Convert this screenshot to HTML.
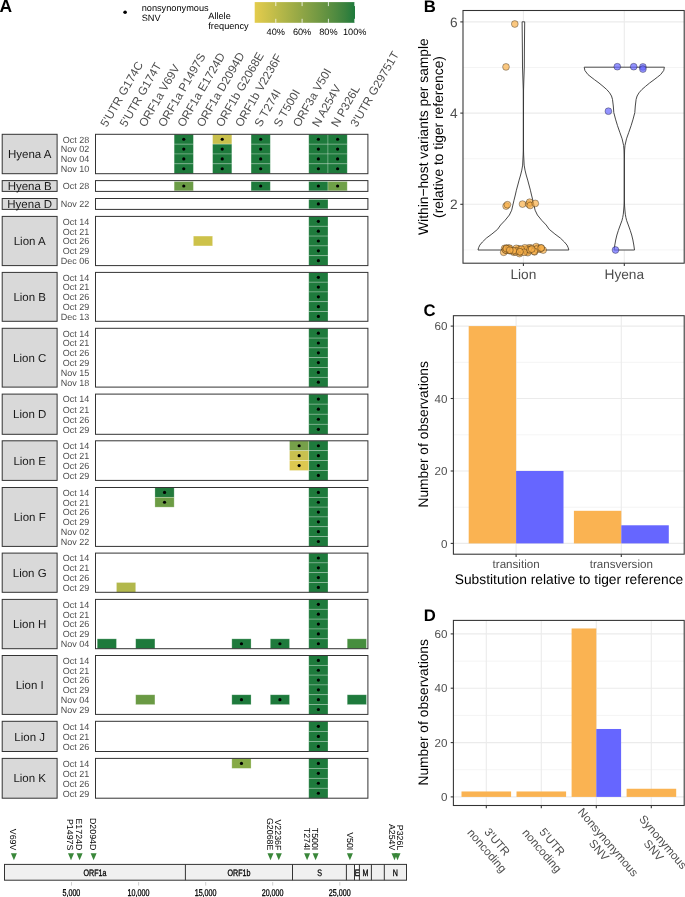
<!DOCTYPE html><html><head><meta charset="utf-8"><style>html,body{margin:0;padding:0;background:#fff;}svg{display:block;will-change:transform;}text{font-family:"Liberation Sans", sans-serif;text-rendering:geometricPrecision;}</style></head><body>
<svg width="685" height="897" viewBox="0 0 685 897">
<rect x="0" y="0" width="685" height="897" fill="#fff"/>
<text x="-0.4" y="11.7" font-size="17.5" font-weight="bold" fill="#000">A</text>
<circle cx="125.1" cy="12.3" r="1.8" fill="#000"/>
<text x="141.7" y="10.9" font-size="9.2" fill="#000">nonsynonymous</text>
<text x="141.7" y="21" font-size="9.2" fill="#000">SNV</text>
<text x="208.3" y="18.6" font-size="9.2" fill="#000">Allele</text>
<text x="208.3" y="28.5" font-size="9.2" fill="#000">frequency</text>
<defs><linearGradient id="cb" x1="0" x2="1" y1="0" y2="0"><stop offset="0.00" stop-color="#e4cc4c"/><stop offset="0.10" stop-color="#d2c44b"/><stop offset="0.20" stop-color="#c0bc49"/><stop offset="0.30" stop-color="#aeb448"/><stop offset="0.40" stop-color="#9cab46"/><stop offset="0.50" stop-color="#8aa345"/><stop offset="0.60" stop-color="#789b43"/><stop offset="0.70" stop-color="#659341"/><stop offset="0.80" stop-color="#518b40"/><stop offset="0.90" stop-color="#3b823e"/><stop offset="1.00" stop-color="#1e7a3c"/></linearGradient></defs>
<rect x="254.7" y="2.1" width="100.30000000000001" height="20.7" fill="url(#cb)"/>
<line x1="275.80" x2="275.80" y1="2.1" y2="6.1" stroke="#fff" stroke-width="0.8"/>
<line x1="275.80" x2="275.80" y1="18.8" y2="22.8" stroke="#fff" stroke-width="0.8"/>
<text x="275.80" y="35" font-size="9.2" fill="#000" text-anchor="middle">40%</text>
<line x1="302.10" x2="302.10" y1="2.1" y2="6.1" stroke="#fff" stroke-width="0.8"/>
<line x1="302.10" x2="302.10" y1="18.8" y2="22.8" stroke="#fff" stroke-width="0.8"/>
<text x="302.10" y="35" font-size="9.2" fill="#000" text-anchor="middle">60%</text>
<line x1="328.40" x2="328.40" y1="2.1" y2="6.1" stroke="#fff" stroke-width="0.8"/>
<line x1="328.40" x2="328.40" y1="18.8" y2="22.8" stroke="#fff" stroke-width="0.8"/>
<text x="328.40" y="35" font-size="9.2" fill="#000" text-anchor="middle">80%</text>
<line x1="354.70" x2="354.70" y1="2.1" y2="6.1" stroke="#fff" stroke-width="0.8"/>
<line x1="354.70" x2="354.70" y1="18.8" y2="22.8" stroke="#fff" stroke-width="0.8"/>
<text x="354.70" y="35" font-size="9.2" fill="#000" text-anchor="middle">100%</text>
<text transform="translate(106.85,127.8) rotate(-60)" font-size="11.7" fill="#4d4d4d">5'UTR G174C</text>
<text transform="translate(126.08,127.8) rotate(-60)" font-size="11.7" fill="#4d4d4d">5'UTR G174T</text>
<text transform="translate(145.31,127.8) rotate(-60)" font-size="11.7" fill="#4d4d4d">ORF1a V69V</text>
<text transform="translate(164.54,127.8) rotate(-60)" font-size="11.7" fill="#4d4d4d">ORF1a P1497S</text>
<text transform="translate(183.77,127.8) rotate(-60)" font-size="11.7" fill="#4d4d4d">ORF1a E1724D</text>
<text transform="translate(203.00,127.8) rotate(-60)" font-size="11.7" fill="#4d4d4d">ORF1a D2094D</text>
<text transform="translate(222.23,127.8) rotate(-60)" font-size="11.7" fill="#4d4d4d">ORF1b G2068E</text>
<text transform="translate(241.46,127.8) rotate(-60)" font-size="11.7" fill="#4d4d4d">ORF1b V2236F</text>
<text transform="translate(260.69,127.8) rotate(-60)" font-size="11.7" fill="#4d4d4d">S T274I</text>
<text transform="translate(279.92,127.8) rotate(-60)" font-size="11.7" fill="#4d4d4d">S T500I</text>
<text transform="translate(299.15,127.8) rotate(-60)" font-size="11.7" fill="#4d4d4d">ORF3a V50I</text>
<text transform="translate(318.38,127.8) rotate(-60)" font-size="11.7" fill="#4d4d4d">N A254V</text>
<text transform="translate(337.61,127.8) rotate(-60)" font-size="11.7" fill="#4d4d4d">N P326L</text>
<text transform="translate(356.84,127.8) rotate(-60)" font-size="11.7" fill="#4d4d4d">3'UTR G29751T</text>
<rect x="2.2" y="134.3" width="54.9" height="39.4" fill="#d9d9d9" stroke="#333333" stroke-width="1"/>
<text x="29.7" y="158.1" font-size="11.5" fill="#1a1a1a" text-anchor="middle">Hyena A</text>
<rect x="95.5" y="134.3" width="272.4" height="39.4" fill="#fff"/>
<rect x="174.15" y="134.30" width="19.23" height="9.85" fill="#1e7a3c" stroke="#fff" stroke-opacity="0.35" stroke-width="0.7"/>
<circle cx="183.77" cy="139.23" r="1.6" fill="#000"/>
<rect x="212.61" y="134.30" width="19.23" height="9.85" fill="#c9c04d" stroke="#fff" stroke-opacity="0.35" stroke-width="0.7"/>
<circle cx="222.23" cy="139.23" r="1.6" fill="#000"/>
<rect x="251.07" y="134.30" width="19.23" height="9.85" fill="#1e7a3c" stroke="#fff" stroke-opacity="0.35" stroke-width="0.7"/>
<circle cx="260.69" cy="139.23" r="1.6" fill="#000"/>
<rect x="308.76" y="134.30" width="19.23" height="9.85" fill="#1e7a3c" stroke="#fff" stroke-opacity="0.35" stroke-width="0.7"/>
<circle cx="318.38" cy="139.23" r="1.6" fill="#000"/>
<rect x="328.00" y="134.30" width="19.23" height="9.85" fill="#1e7a3c" stroke="#fff" stroke-opacity="0.35" stroke-width="0.7"/>
<circle cx="337.61" cy="139.23" r="1.6" fill="#000"/>
<rect x="174.15" y="144.15" width="19.23" height="9.85" fill="#1e7a3c" stroke="#fff" stroke-opacity="0.35" stroke-width="0.7"/>
<circle cx="183.77" cy="149.07" r="1.6" fill="#000"/>
<rect x="212.61" y="144.15" width="19.23" height="9.85" fill="#1e7a3c" stroke="#fff" stroke-opacity="0.35" stroke-width="0.7"/>
<circle cx="222.23" cy="149.07" r="1.6" fill="#000"/>
<rect x="251.07" y="144.15" width="19.23" height="9.85" fill="#1e7a3c" stroke="#fff" stroke-opacity="0.35" stroke-width="0.7"/>
<circle cx="260.69" cy="149.07" r="1.6" fill="#000"/>
<rect x="308.76" y="144.15" width="19.23" height="9.85" fill="#1e7a3c" stroke="#fff" stroke-opacity="0.35" stroke-width="0.7"/>
<circle cx="318.38" cy="149.07" r="1.6" fill="#000"/>
<rect x="328.00" y="144.15" width="19.23" height="9.85" fill="#1e7a3c" stroke="#fff" stroke-opacity="0.35" stroke-width="0.7"/>
<circle cx="337.61" cy="149.07" r="1.6" fill="#000"/>
<rect x="174.15" y="154.00" width="19.23" height="9.85" fill="#1e7a3c" stroke="#fff" stroke-opacity="0.35" stroke-width="0.7"/>
<circle cx="183.77" cy="158.93" r="1.6" fill="#000"/>
<rect x="212.61" y="154.00" width="19.23" height="9.85" fill="#1e7a3c" stroke="#fff" stroke-opacity="0.35" stroke-width="0.7"/>
<circle cx="222.23" cy="158.93" r="1.6" fill="#000"/>
<rect x="251.07" y="154.00" width="19.23" height="9.85" fill="#1e7a3c" stroke="#fff" stroke-opacity="0.35" stroke-width="0.7"/>
<circle cx="260.69" cy="158.93" r="1.6" fill="#000"/>
<rect x="308.76" y="154.00" width="19.23" height="9.85" fill="#1e7a3c" stroke="#fff" stroke-opacity="0.35" stroke-width="0.7"/>
<circle cx="318.38" cy="158.93" r="1.6" fill="#000"/>
<rect x="328.00" y="154.00" width="19.23" height="9.85" fill="#1e7a3c" stroke="#fff" stroke-opacity="0.35" stroke-width="0.7"/>
<circle cx="337.61" cy="158.93" r="1.6" fill="#000"/>
<rect x="174.15" y="163.85" width="19.23" height="9.85" fill="#1e7a3c" stroke="#fff" stroke-opacity="0.35" stroke-width="0.7"/>
<circle cx="183.77" cy="168.77" r="1.6" fill="#000"/>
<rect x="212.61" y="163.85" width="19.23" height="9.85" fill="#1e7a3c" stroke="#fff" stroke-opacity="0.35" stroke-width="0.7"/>
<circle cx="222.23" cy="168.77" r="1.6" fill="#000"/>
<rect x="251.07" y="163.85" width="19.23" height="9.85" fill="#1e7a3c" stroke="#fff" stroke-opacity="0.35" stroke-width="0.7"/>
<circle cx="260.69" cy="168.77" r="1.6" fill="#000"/>
<rect x="308.76" y="163.85" width="19.23" height="9.85" fill="#1e7a3c" stroke="#fff" stroke-opacity="0.35" stroke-width="0.7"/>
<circle cx="318.38" cy="168.77" r="1.6" fill="#000"/>
<rect x="328.00" y="163.85" width="19.23" height="9.85" fill="#1e7a3c" stroke="#fff" stroke-opacity="0.35" stroke-width="0.7"/>
<circle cx="337.61" cy="168.77" r="1.6" fill="#000"/>
<rect x="95.5" y="134.3" width="272.4" height="39.4" fill="none" stroke="#333333" stroke-width="1"/>
<text x="89.2" y="142.5" font-size="9" fill="#4d4d4d" text-anchor="end">Oct 28</text>
<text x="89.2" y="152.4" font-size="9" fill="#4d4d4d" text-anchor="end">Nov 02</text>
<text x="89.2" y="162.2" font-size="9" fill="#4d4d4d" text-anchor="end">Nov 04</text>
<text x="89.2" y="172.1" font-size="9" fill="#4d4d4d" text-anchor="end">Nov 10</text>
<rect x="2.2" y="180.6" width="54.9" height="10.8" fill="#d9d9d9" stroke="#333333" stroke-width="1"/>
<text x="29.7" y="190.1" font-size="11.5" fill="#1a1a1a" text-anchor="middle">Hyena B</text>
<rect x="95.5" y="180.6" width="272.4" height="10.8" fill="#fff"/>
<rect x="174.15" y="181.50" width="19.23" height="9.30" fill="#6b9c46" stroke="#fff" stroke-opacity="0.35" stroke-width="0.7"/>
<circle cx="183.77" cy="186.00" r="1.6" fill="#000"/>
<rect x="251.07" y="181.50" width="19.23" height="9.30" fill="#1e7a3c" stroke="#fff" stroke-opacity="0.35" stroke-width="0.7"/>
<circle cx="260.69" cy="186.00" r="1.6" fill="#000"/>
<rect x="308.76" y="181.50" width="19.23" height="9.30" fill="#1e7a3c" stroke="#fff" stroke-opacity="0.35" stroke-width="0.7"/>
<circle cx="318.38" cy="186.00" r="1.6" fill="#000"/>
<rect x="328.00" y="181.50" width="19.23" height="9.30" fill="#6fa048" stroke="#fff" stroke-opacity="0.35" stroke-width="0.7"/>
<circle cx="337.61" cy="186.00" r="1.6" fill="#000"/>
<rect x="95.5" y="180.6" width="272.4" height="10.8" fill="none" stroke="#333333" stroke-width="1"/>
<text x="89.2" y="189.3" font-size="9" fill="#4d4d4d" text-anchor="end">Oct 28</text>
<rect x="2.2" y="198.5" width="54.9" height="10.9" fill="#d9d9d9" stroke="#333333" stroke-width="1"/>
<text x="29.7" y="208.0" font-size="11.5" fill="#1a1a1a" text-anchor="middle">Hyena D</text>
<rect x="95.5" y="198.5" width="272.4" height="10.9" fill="#fff"/>
<rect x="308.76" y="199.40" width="19.23" height="9.40" fill="#1e7a3c" stroke="#fff" stroke-opacity="0.35" stroke-width="0.7"/>
<circle cx="318.38" cy="203.95" r="1.6" fill="#000"/>
<rect x="95.5" y="198.5" width="272.4" height="10.9" fill="none" stroke="#333333" stroke-width="1"/>
<text x="89.2" y="207.2" font-size="9" fill="#4d4d4d" text-anchor="end">Nov 22</text>
<rect x="2.2" y="216.4" width="54.9" height="49.2" fill="#d9d9d9" stroke="#333333" stroke-width="1"/>
<text x="29.7" y="245.1" font-size="11.5" fill="#1a1a1a" text-anchor="middle">Lion A</text>
<rect x="95.5" y="216.4" width="272.4" height="49.2" fill="#fff"/>
<rect x="308.76" y="216.40" width="19.23" height="9.84" fill="#1e7a3c" stroke="#fff" stroke-opacity="0.35" stroke-width="0.7"/>
<circle cx="318.38" cy="221.32" r="1.6" fill="#000"/>
<rect x="308.76" y="226.24" width="19.23" height="9.84" fill="#1e7a3c" stroke="#fff" stroke-opacity="0.35" stroke-width="0.7"/>
<circle cx="318.38" cy="231.16" r="1.6" fill="#000"/>
<rect x="308.76" y="236.08" width="19.23" height="9.84" fill="#1e7a3c" stroke="#fff" stroke-opacity="0.35" stroke-width="0.7"/>
<circle cx="318.38" cy="241.00" r="1.6" fill="#000"/>
<rect x="308.76" y="245.92" width="19.23" height="9.84" fill="#1e7a3c" stroke="#fff" stroke-opacity="0.35" stroke-width="0.7"/>
<circle cx="318.38" cy="250.84" r="1.6" fill="#000"/>
<rect x="308.76" y="255.76" width="19.23" height="9.84" fill="#1e7a3c" stroke="#fff" stroke-opacity="0.35" stroke-width="0.7"/>
<circle cx="318.38" cy="260.68" r="1.6" fill="#000"/>
<rect x="193.38" y="236.08" width="19.23" height="9.84" fill="#cdc24a" stroke="#fff" stroke-opacity="0.35" stroke-width="0.7"/>
<rect x="95.5" y="216.4" width="272.4" height="49.2" fill="none" stroke="#333333" stroke-width="1"/>
<text x="89.2" y="224.6" font-size="9" fill="#4d4d4d" text-anchor="end">Oct 14</text>
<text x="89.2" y="234.5" font-size="9" fill="#4d4d4d" text-anchor="end">Oct 21</text>
<text x="89.2" y="244.3" font-size="9" fill="#4d4d4d" text-anchor="end">Oct 26</text>
<text x="89.2" y="254.1" font-size="9" fill="#4d4d4d" text-anchor="end">Oct 29</text>
<text x="89.2" y="264.0" font-size="9" fill="#4d4d4d" text-anchor="end">Dec 06</text>
<rect x="2.2" y="272.4" width="54.9" height="48.9" fill="#d9d9d9" stroke="#333333" stroke-width="1"/>
<text x="29.7" y="301.0" font-size="11.5" fill="#1a1a1a" text-anchor="middle">Lion B</text>
<rect x="95.5" y="272.4" width="272.4" height="48.9" fill="#fff"/>
<rect x="308.76" y="272.40" width="19.23" height="9.78" fill="#1e7a3c" stroke="#fff" stroke-opacity="0.35" stroke-width="0.7"/>
<circle cx="318.38" cy="277.29" r="1.6" fill="#000"/>
<rect x="308.76" y="282.18" width="19.23" height="9.78" fill="#1e7a3c" stroke="#fff" stroke-opacity="0.35" stroke-width="0.7"/>
<circle cx="318.38" cy="287.07" r="1.6" fill="#000"/>
<rect x="308.76" y="291.96" width="19.23" height="9.78" fill="#1e7a3c" stroke="#fff" stroke-opacity="0.35" stroke-width="0.7"/>
<circle cx="318.38" cy="296.85" r="1.6" fill="#000"/>
<rect x="308.76" y="301.74" width="19.23" height="9.78" fill="#1e7a3c" stroke="#fff" stroke-opacity="0.35" stroke-width="0.7"/>
<circle cx="318.38" cy="306.63" r="1.6" fill="#000"/>
<rect x="308.76" y="311.52" width="19.23" height="9.78" fill="#1e7a3c" stroke="#fff" stroke-opacity="0.35" stroke-width="0.7"/>
<circle cx="318.38" cy="316.41" r="1.6" fill="#000"/>
<rect x="95.5" y="272.4" width="272.4" height="48.9" fill="none" stroke="#333333" stroke-width="1"/>
<text x="89.2" y="280.6" font-size="9" fill="#4d4d4d" text-anchor="end">Oct 14</text>
<text x="89.2" y="290.4" font-size="9" fill="#4d4d4d" text-anchor="end">Oct 21</text>
<text x="89.2" y="300.2" font-size="9" fill="#4d4d4d" text-anchor="end">Oct 26</text>
<text x="89.2" y="309.9" font-size="9" fill="#4d4d4d" text-anchor="end">Oct 29</text>
<text x="89.2" y="319.7" font-size="9" fill="#4d4d4d" text-anchor="end">Dec 13</text>
<rect x="2.2" y="328.3" width="54.9" height="58.8" fill="#d9d9d9" stroke="#333333" stroke-width="1"/>
<text x="29.7" y="361.8" font-size="11.5" fill="#1a1a1a" text-anchor="middle">Lion C</text>
<rect x="95.5" y="328.3" width="272.4" height="58.8" fill="#fff"/>
<rect x="308.76" y="328.30" width="19.23" height="9.80" fill="#1e7a3c" stroke="#fff" stroke-opacity="0.35" stroke-width="0.7"/>
<circle cx="318.38" cy="333.20" r="1.6" fill="#000"/>
<rect x="308.76" y="338.10" width="19.23" height="9.80" fill="#1e7a3c" stroke="#fff" stroke-opacity="0.35" stroke-width="0.7"/>
<circle cx="318.38" cy="343.00" r="1.6" fill="#000"/>
<rect x="308.76" y="347.90" width="19.23" height="9.80" fill="#1e7a3c" stroke="#fff" stroke-opacity="0.35" stroke-width="0.7"/>
<circle cx="318.38" cy="352.80" r="1.6" fill="#000"/>
<rect x="308.76" y="357.70" width="19.23" height="9.80" fill="#1e7a3c" stroke="#fff" stroke-opacity="0.35" stroke-width="0.7"/>
<circle cx="318.38" cy="362.60" r="1.6" fill="#000"/>
<rect x="308.76" y="367.50" width="19.23" height="9.80" fill="#1e7a3c" stroke="#fff" stroke-opacity="0.35" stroke-width="0.7"/>
<circle cx="318.38" cy="372.40" r="1.6" fill="#000"/>
<rect x="308.76" y="377.30" width="19.23" height="9.80" fill="#1e7a3c" stroke="#fff" stroke-opacity="0.35" stroke-width="0.7"/>
<circle cx="318.38" cy="382.20" r="1.6" fill="#000"/>
<rect x="95.5" y="328.3" width="272.4" height="58.8" fill="none" stroke="#333333" stroke-width="1"/>
<text x="89.2" y="336.5" font-size="9" fill="#4d4d4d" text-anchor="end">Oct 14</text>
<text x="89.2" y="346.3" font-size="9" fill="#4d4d4d" text-anchor="end">Oct 21</text>
<text x="89.2" y="356.1" font-size="9" fill="#4d4d4d" text-anchor="end">Oct 26</text>
<text x="89.2" y="365.9" font-size="9" fill="#4d4d4d" text-anchor="end">Oct 29</text>
<text x="89.2" y="375.7" font-size="9" fill="#4d4d4d" text-anchor="end">Nov 15</text>
<text x="89.2" y="385.5" font-size="9" fill="#4d4d4d" text-anchor="end">Nov 18</text>
<rect x="2.2" y="394.1" width="54.9" height="40.2" fill="#d9d9d9" stroke="#333333" stroke-width="1"/>
<text x="29.7" y="418.3" font-size="11.5" fill="#1a1a1a" text-anchor="middle">Lion D</text>
<rect x="95.5" y="394.1" width="272.4" height="40.2" fill="#fff"/>
<rect x="308.76" y="394.10" width="19.23" height="10.05" fill="#1e7a3c" stroke="#fff" stroke-opacity="0.35" stroke-width="0.7"/>
<circle cx="318.38" cy="399.12" r="1.6" fill="#000"/>
<rect x="308.76" y="404.15" width="19.23" height="10.05" fill="#1e7a3c" stroke="#fff" stroke-opacity="0.35" stroke-width="0.7"/>
<circle cx="318.38" cy="409.18" r="1.6" fill="#000"/>
<rect x="308.76" y="414.20" width="19.23" height="10.05" fill="#1e7a3c" stroke="#fff" stroke-opacity="0.35" stroke-width="0.7"/>
<circle cx="318.38" cy="419.23" r="1.6" fill="#000"/>
<rect x="308.76" y="424.25" width="19.23" height="10.05" fill="#1e7a3c" stroke="#fff" stroke-opacity="0.35" stroke-width="0.7"/>
<circle cx="318.38" cy="429.28" r="1.6" fill="#000"/>
<rect x="95.5" y="394.1" width="272.4" height="40.2" fill="none" stroke="#333333" stroke-width="1"/>
<text x="89.2" y="402.4" font-size="9" fill="#4d4d4d" text-anchor="end">Oct 14</text>
<text x="89.2" y="412.5" font-size="9" fill="#4d4d4d" text-anchor="end">Oct 21</text>
<text x="89.2" y="422.5" font-size="9" fill="#4d4d4d" text-anchor="end">Oct 26</text>
<text x="89.2" y="432.6" font-size="9" fill="#4d4d4d" text-anchor="end">Oct 29</text>
<rect x="2.2" y="440.8" width="54.9" height="39.6" fill="#d9d9d9" stroke="#333333" stroke-width="1"/>
<text x="29.7" y="464.7" font-size="11.5" fill="#1a1a1a" text-anchor="middle">Lion E</text>
<rect x="95.5" y="440.8" width="272.4" height="39.6" fill="#fff"/>
<rect x="308.76" y="440.80" width="19.23" height="9.90" fill="#1e7a3c" stroke="#fff" stroke-opacity="0.35" stroke-width="0.7"/>
<circle cx="318.38" cy="445.75" r="1.6" fill="#000"/>
<rect x="308.76" y="450.70" width="19.23" height="9.90" fill="#1e7a3c" stroke="#fff" stroke-opacity="0.35" stroke-width="0.7"/>
<circle cx="318.38" cy="455.65" r="1.6" fill="#000"/>
<rect x="308.76" y="460.60" width="19.23" height="9.90" fill="#1e7a3c" stroke="#fff" stroke-opacity="0.35" stroke-width="0.7"/>
<circle cx="318.38" cy="465.55" r="1.6" fill="#000"/>
<rect x="308.76" y="470.50" width="19.23" height="9.90" fill="#1e7a3c" stroke="#fff" stroke-opacity="0.35" stroke-width="0.7"/>
<circle cx="318.38" cy="475.45" r="1.6" fill="#000"/>
<rect x="289.53" y="440.80" width="19.23" height="9.90" fill="#76a04a" stroke="#fff" stroke-opacity="0.35" stroke-width="0.7"/>
<circle cx="299.15" cy="445.75" r="1.6" fill="#000"/>
<rect x="289.53" y="450.70" width="19.23" height="9.90" fill="#c8c050" stroke="#fff" stroke-opacity="0.35" stroke-width="0.7"/>
<circle cx="299.15" cy="455.65" r="1.6" fill="#000"/>
<rect x="289.53" y="460.60" width="19.23" height="9.90" fill="#dcc850" stroke="#fff" stroke-opacity="0.35" stroke-width="0.7"/>
<circle cx="299.15" cy="465.55" r="1.6" fill="#000"/>
<rect x="95.5" y="440.8" width="272.4" height="39.6" fill="none" stroke="#333333" stroke-width="1"/>
<text x="89.2" y="449.1" font-size="9" fill="#4d4d4d" text-anchor="end">Oct 14</text>
<text x="89.2" y="458.9" font-size="9" fill="#4d4d4d" text-anchor="end">Oct 21</text>
<text x="89.2" y="468.9" font-size="9" fill="#4d4d4d" text-anchor="end">Oct 26</text>
<text x="89.2" y="478.8" font-size="9" fill="#4d4d4d" text-anchor="end">Oct 29</text>
<rect x="2.2" y="487.5" width="54.9" height="58.9" fill="#d9d9d9" stroke="#333333" stroke-width="1"/>
<text x="29.7" y="521.1" font-size="11.5" fill="#1a1a1a" text-anchor="middle">Lion F</text>
<rect x="95.5" y="487.5" width="272.4" height="58.9" fill="#fff"/>
<rect x="308.76" y="487.50" width="19.23" height="9.82" fill="#1e7a3c" stroke="#fff" stroke-opacity="0.35" stroke-width="0.7"/>
<circle cx="318.38" cy="492.41" r="1.6" fill="#000"/>
<rect x="308.76" y="497.32" width="19.23" height="9.82" fill="#1e7a3c" stroke="#fff" stroke-opacity="0.35" stroke-width="0.7"/>
<circle cx="318.38" cy="502.23" r="1.6" fill="#000"/>
<rect x="308.76" y="507.13" width="19.23" height="9.82" fill="#1e7a3c" stroke="#fff" stroke-opacity="0.35" stroke-width="0.7"/>
<circle cx="318.38" cy="512.04" r="1.6" fill="#000"/>
<rect x="308.76" y="516.95" width="19.23" height="9.82" fill="#1e7a3c" stroke="#fff" stroke-opacity="0.35" stroke-width="0.7"/>
<circle cx="318.38" cy="521.86" r="1.6" fill="#000"/>
<rect x="308.76" y="526.77" width="19.23" height="9.82" fill="#1e7a3c" stroke="#fff" stroke-opacity="0.35" stroke-width="0.7"/>
<circle cx="318.38" cy="531.67" r="1.6" fill="#000"/>
<rect x="308.76" y="536.58" width="19.23" height="9.82" fill="#1e7a3c" stroke="#fff" stroke-opacity="0.35" stroke-width="0.7"/>
<circle cx="318.38" cy="541.49" r="1.6" fill="#000"/>
<rect x="154.92" y="487.50" width="19.23" height="9.82" fill="#237a3c" stroke="#fff" stroke-opacity="0.35" stroke-width="0.7"/>
<circle cx="164.54" cy="492.41" r="1.6" fill="#000"/>
<rect x="154.92" y="497.32" width="19.23" height="9.82" fill="#6c9c44" stroke="#fff" stroke-opacity="0.35" stroke-width="0.7"/>
<circle cx="164.54" cy="502.23" r="1.6" fill="#000"/>
<rect x="95.5" y="487.5" width="272.4" height="58.9" fill="none" stroke="#333333" stroke-width="1"/>
<text x="89.2" y="495.7" font-size="9" fill="#4d4d4d" text-anchor="end">Oct 14</text>
<text x="89.2" y="505.5" font-size="9" fill="#4d4d4d" text-anchor="end">Oct 21</text>
<text x="89.2" y="515.3" font-size="9" fill="#4d4d4d" text-anchor="end">Oct 26</text>
<text x="89.2" y="525.2" font-size="9" fill="#4d4d4d" text-anchor="end">Oct 29</text>
<text x="89.2" y="535.0" font-size="9" fill="#4d4d4d" text-anchor="end">Nov 02</text>
<text x="89.2" y="544.8" font-size="9" fill="#4d4d4d" text-anchor="end">Nov 22</text>
<rect x="2.2" y="553.1" width="54.9" height="39.2" fill="#d9d9d9" stroke="#333333" stroke-width="1"/>
<text x="29.7" y="576.8" font-size="11.5" fill="#1a1a1a" text-anchor="middle">Lion G</text>
<rect x="95.5" y="553.1" width="272.4" height="39.2" fill="#fff"/>
<rect x="308.76" y="553.10" width="19.23" height="9.80" fill="#1e7a3c" stroke="#fff" stroke-opacity="0.35" stroke-width="0.7"/>
<circle cx="318.38" cy="558.00" r="1.6" fill="#000"/>
<rect x="308.76" y="562.90" width="19.23" height="9.80" fill="#1e7a3c" stroke="#fff" stroke-opacity="0.35" stroke-width="0.7"/>
<circle cx="318.38" cy="567.80" r="1.6" fill="#000"/>
<rect x="308.76" y="572.70" width="19.23" height="9.80" fill="#1e7a3c" stroke="#fff" stroke-opacity="0.35" stroke-width="0.7"/>
<circle cx="318.38" cy="577.60" r="1.6" fill="#000"/>
<rect x="308.76" y="582.50" width="19.23" height="9.80" fill="#1e7a3c" stroke="#fff" stroke-opacity="0.35" stroke-width="0.7"/>
<circle cx="318.38" cy="587.40" r="1.6" fill="#000"/>
<rect x="116.47" y="582.50" width="19.23" height="9.80" fill="#b2b84c" stroke="#fff" stroke-opacity="0.35" stroke-width="0.7"/>
<rect x="95.5" y="553.1" width="272.4" height="39.2" fill="none" stroke="#333333" stroke-width="1"/>
<text x="89.2" y="561.3" font-size="9" fill="#4d4d4d" text-anchor="end">Oct 14</text>
<text x="89.2" y="571.1" font-size="9" fill="#4d4d4d" text-anchor="end">Oct 21</text>
<text x="89.2" y="580.9" font-size="9" fill="#4d4d4d" text-anchor="end">Oct 26</text>
<text x="89.2" y="590.7" font-size="9" fill="#4d4d4d" text-anchor="end">Oct 29</text>
<rect x="2.2" y="599.4" width="54.9" height="49.3" fill="#d9d9d9" stroke="#333333" stroke-width="1"/>
<text x="29.7" y="628.1" font-size="11.5" fill="#1a1a1a" text-anchor="middle">Lion H</text>
<rect x="95.5" y="599.4" width="272.4" height="49.3" fill="#fff"/>
<rect x="308.76" y="599.40" width="19.23" height="9.86" fill="#1e7a3c" stroke="#fff" stroke-opacity="0.35" stroke-width="0.7"/>
<circle cx="318.38" cy="604.33" r="1.6" fill="#000"/>
<rect x="308.76" y="609.26" width="19.23" height="9.86" fill="#1e7a3c" stroke="#fff" stroke-opacity="0.35" stroke-width="0.7"/>
<circle cx="318.38" cy="614.19" r="1.6" fill="#000"/>
<rect x="308.76" y="619.12" width="19.23" height="9.86" fill="#1e7a3c" stroke="#fff" stroke-opacity="0.35" stroke-width="0.7"/>
<circle cx="318.38" cy="624.05" r="1.6" fill="#000"/>
<rect x="308.76" y="628.98" width="19.23" height="9.86" fill="#1e7a3c" stroke="#fff" stroke-opacity="0.35" stroke-width="0.7"/>
<circle cx="318.38" cy="633.91" r="1.6" fill="#000"/>
<rect x="308.76" y="638.84" width="19.23" height="9.86" fill="#1e7a3c" stroke="#fff" stroke-opacity="0.35" stroke-width="0.7"/>
<circle cx="318.38" cy="643.77" r="1.6" fill="#000"/>
<rect x="97.23" y="638.84" width="19.23" height="9.86" fill="#1e7a3c" stroke="#fff" stroke-opacity="0.35" stroke-width="0.7"/>
<rect x="135.69" y="638.84" width="19.23" height="9.86" fill="#1e7a3c" stroke="#fff" stroke-opacity="0.35" stroke-width="0.7"/>
<rect x="231.84" y="638.84" width="19.23" height="9.86" fill="#1e7a3c" stroke="#fff" stroke-opacity="0.35" stroke-width="0.7"/>
<circle cx="241.46" cy="643.77" r="1.6" fill="#000"/>
<rect x="270.30" y="638.84" width="19.23" height="9.86" fill="#1e7a3c" stroke="#fff" stroke-opacity="0.35" stroke-width="0.7"/>
<circle cx="279.92" cy="643.77" r="1.6" fill="#000"/>
<rect x="347.23" y="638.84" width="19.23" height="9.86" fill="#468e3e" stroke="#fff" stroke-opacity="0.35" stroke-width="0.7"/>
<rect x="95.5" y="599.4" width="272.4" height="49.3" fill="none" stroke="#333333" stroke-width="1"/>
<text x="89.2" y="607.6" font-size="9" fill="#4d4d4d" text-anchor="end">Oct 14</text>
<text x="89.2" y="617.5" font-size="9" fill="#4d4d4d" text-anchor="end">Oct 21</text>
<text x="89.2" y="627.3" font-size="9" fill="#4d4d4d" text-anchor="end">Oct 26</text>
<text x="89.2" y="637.2" font-size="9" fill="#4d4d4d" text-anchor="end">Oct 29</text>
<text x="89.2" y="647.1" font-size="9" fill="#4d4d4d" text-anchor="end">Nov 04</text>
<rect x="2.2" y="655.5" width="54.9" height="58.9" fill="#d9d9d9" stroke="#333333" stroke-width="1"/>
<text x="29.7" y="689.1" font-size="11.5" fill="#1a1a1a" text-anchor="middle">Lion I</text>
<rect x="95.5" y="655.5" width="272.4" height="58.9" fill="#fff"/>
<rect x="308.76" y="655.50" width="19.23" height="9.82" fill="#1e7a3c" stroke="#fff" stroke-opacity="0.35" stroke-width="0.7"/>
<circle cx="318.38" cy="660.41" r="1.6" fill="#000"/>
<rect x="308.76" y="665.32" width="19.23" height="9.82" fill="#1e7a3c" stroke="#fff" stroke-opacity="0.35" stroke-width="0.7"/>
<circle cx="318.38" cy="670.23" r="1.6" fill="#000"/>
<rect x="308.76" y="675.13" width="19.23" height="9.82" fill="#1e7a3c" stroke="#fff" stroke-opacity="0.35" stroke-width="0.7"/>
<circle cx="318.38" cy="680.04" r="1.6" fill="#000"/>
<rect x="308.76" y="684.95" width="19.23" height="9.82" fill="#1e7a3c" stroke="#fff" stroke-opacity="0.35" stroke-width="0.7"/>
<circle cx="318.38" cy="689.86" r="1.6" fill="#000"/>
<rect x="308.76" y="694.77" width="19.23" height="9.82" fill="#1e7a3c" stroke="#fff" stroke-opacity="0.35" stroke-width="0.7"/>
<circle cx="318.38" cy="699.67" r="1.6" fill="#000"/>
<rect x="308.76" y="704.58" width="19.23" height="9.82" fill="#1e7a3c" stroke="#fff" stroke-opacity="0.35" stroke-width="0.7"/>
<circle cx="318.38" cy="709.49" r="1.6" fill="#000"/>
<rect x="135.69" y="694.77" width="19.23" height="9.82" fill="#6a9a44" stroke="#fff" stroke-opacity="0.35" stroke-width="0.7"/>
<rect x="231.84" y="694.77" width="19.23" height="9.82" fill="#1e7a3c" stroke="#fff" stroke-opacity="0.35" stroke-width="0.7"/>
<circle cx="241.46" cy="699.67" r="1.6" fill="#000"/>
<rect x="270.30" y="694.77" width="19.23" height="9.82" fill="#1e7a3c" stroke="#fff" stroke-opacity="0.35" stroke-width="0.7"/>
<circle cx="279.92" cy="699.67" r="1.6" fill="#000"/>
<rect x="347.23" y="694.77" width="19.23" height="9.82" fill="#1e7a3c" stroke="#fff" stroke-opacity="0.35" stroke-width="0.7"/>
<rect x="95.5" y="655.5" width="272.4" height="58.9" fill="none" stroke="#333333" stroke-width="1"/>
<text x="89.2" y="663.7" font-size="9" fill="#4d4d4d" text-anchor="end">Oct 14</text>
<text x="89.2" y="673.5" font-size="9" fill="#4d4d4d" text-anchor="end">Oct 21</text>
<text x="89.2" y="683.3" font-size="9" fill="#4d4d4d" text-anchor="end">Oct 26</text>
<text x="89.2" y="693.2" font-size="9" fill="#4d4d4d" text-anchor="end">Oct 29</text>
<text x="89.2" y="703.0" font-size="9" fill="#4d4d4d" text-anchor="end">Nov 04</text>
<text x="89.2" y="712.8" font-size="9" fill="#4d4d4d" text-anchor="end">Nov 29</text>
<rect x="2.2" y="721.3" width="54.9" height="30.2" fill="#d9d9d9" stroke="#333333" stroke-width="1"/>
<text x="29.7" y="740.5" font-size="11.5" fill="#1a1a1a" text-anchor="middle">Lion J</text>
<rect x="95.5" y="721.3" width="272.4" height="30.2" fill="#fff"/>
<rect x="308.76" y="721.30" width="19.23" height="10.07" fill="#1e7a3c" stroke="#fff" stroke-opacity="0.35" stroke-width="0.7"/>
<circle cx="318.38" cy="726.33" r="1.6" fill="#000"/>
<rect x="308.76" y="731.37" width="19.23" height="10.07" fill="#1e7a3c" stroke="#fff" stroke-opacity="0.35" stroke-width="0.7"/>
<circle cx="318.38" cy="736.40" r="1.6" fill="#000"/>
<rect x="308.76" y="741.43" width="19.23" height="10.07" fill="#1e7a3c" stroke="#fff" stroke-opacity="0.35" stroke-width="0.7"/>
<circle cx="318.38" cy="746.47" r="1.6" fill="#000"/>
<rect x="95.5" y="721.3" width="272.4" height="30.2" fill="none" stroke="#333333" stroke-width="1"/>
<text x="89.2" y="729.6" font-size="9" fill="#4d4d4d" text-anchor="end">Oct 14</text>
<text x="89.2" y="739.7" font-size="9" fill="#4d4d4d" text-anchor="end">Oct 21</text>
<text x="89.2" y="749.8" font-size="9" fill="#4d4d4d" text-anchor="end">Oct 26</text>
<rect x="2.2" y="758.4" width="54.9" height="39.8" fill="#d9d9d9" stroke="#333333" stroke-width="1"/>
<text x="29.7" y="782.4" font-size="11.5" fill="#1a1a1a" text-anchor="middle">Lion K</text>
<rect x="95.5" y="758.4" width="272.4" height="39.8" fill="#fff"/>
<rect x="308.76" y="758.40" width="19.23" height="9.95" fill="#1e7a3c" stroke="#fff" stroke-opacity="0.35" stroke-width="0.7"/>
<circle cx="318.38" cy="763.38" r="1.6" fill="#000"/>
<rect x="308.76" y="768.35" width="19.23" height="9.95" fill="#1e7a3c" stroke="#fff" stroke-opacity="0.35" stroke-width="0.7"/>
<circle cx="318.38" cy="773.33" r="1.6" fill="#000"/>
<rect x="308.76" y="778.30" width="19.23" height="9.95" fill="#1e7a3c" stroke="#fff" stroke-opacity="0.35" stroke-width="0.7"/>
<circle cx="318.38" cy="783.27" r="1.6" fill="#000"/>
<rect x="308.76" y="788.25" width="19.23" height="9.95" fill="#1e7a3c" stroke="#fff" stroke-opacity="0.35" stroke-width="0.7"/>
<circle cx="318.38" cy="793.23" r="1.6" fill="#000"/>
<rect x="231.84" y="758.40" width="19.23" height="9.95" fill="#86aa46" stroke="#fff" stroke-opacity="0.35" stroke-width="0.7"/>
<circle cx="241.46" cy="763.38" r="1.6" fill="#000"/>
<rect x="95.5" y="758.4" width="272.4" height="39.8" fill="none" stroke="#333333" stroke-width="1"/>
<text x="89.2" y="766.7" font-size="9" fill="#4d4d4d" text-anchor="end">Oct 14</text>
<text x="89.2" y="776.6" font-size="9" fill="#4d4d4d" text-anchor="end">Oct 21</text>
<text x="89.2" y="786.6" font-size="9" fill="#4d4d4d" text-anchor="end">Oct 26</text>
<text x="89.2" y="796.5" font-size="9" fill="#4d4d4d" text-anchor="end">Oct 29</text>
<rect x="4.5" y="864.4" width="402.0" height="15.8" fill="#f0f0f0"/>
<rect x="354.5" y="864.4" width="4.9" height="15.8" fill="#fff"/>
<rect x="4.5" y="864.4" width="402.0" height="15.8" fill="none" stroke="#333333" stroke-width="1"/>
<line x1="185.4" x2="185.4" y1="864.4" y2="880.2" stroke="#333333" stroke-width="1"/>
<line x1="292.5" x2="292.5" y1="864.4" y2="880.2" stroke="#333333" stroke-width="1"/>
<line x1="346.4" x2="346.4" y1="864.4" y2="880.2" stroke="#333333" stroke-width="1"/>
<line x1="354.5" x2="354.5" y1="864.4" y2="880.2" stroke="#333333" stroke-width="1"/>
<line x1="359.4" x2="359.4" y1="864.4" y2="880.2" stroke="#333333" stroke-width="1"/>
<line x1="371.4" x2="371.4" y1="864.4" y2="880.2" stroke="#333333" stroke-width="1"/>
<line x1="384.3" x2="384.3" y1="864.4" y2="880.2" stroke="#333333" stroke-width="1"/>
<text transform="translate(95,875.8) scale(0.76,1)" font-size="9.4" fill="#000" stroke="#000" stroke-width="0.3" text-anchor="middle">ORF1a</text>
<text transform="translate(239,875.8) scale(0.76,1)" font-size="9.4" fill="#000" stroke="#000" stroke-width="0.3" text-anchor="middle">ORF1b</text>
<text transform="translate(319.5,875.8) scale(0.76,1)" font-size="9.4" fill="#000" stroke="#000" stroke-width="0.3" text-anchor="middle">S</text>
<text transform="translate(357,875.8) scale(0.76,1)" font-size="9.4" fill="#000" stroke="#000" stroke-width="0.3" text-anchor="middle">E</text>
<text transform="translate(365.4,875.8) scale(0.76,1)" font-size="9.4" fill="#000" stroke="#000" stroke-width="0.3" text-anchor="middle">M</text>
<text transform="translate(395.4,875.8) scale(0.76,1)" font-size="9.4" fill="#000" stroke="#000" stroke-width="0.3" text-anchor="middle">N</text>
<line x1="71.5" x2="71.5" y1="882" y2="885.6" stroke="#bbb" stroke-width="0.7"/>
<text transform="translate(71.4,895.6) scale(0.73,1)" font-size="9.8" fill="#000" stroke="#000" stroke-width="0.3" text-anchor="middle">5,000</text>
<line x1="138.6" x2="138.6" y1="882" y2="885.6" stroke="#bbb" stroke-width="0.7"/>
<text transform="translate(138.5,895.6) scale(0.73,1)" font-size="9.8" fill="#000" stroke="#000" stroke-width="0.3" text-anchor="middle">10,000</text>
<line x1="205.7" x2="205.7" y1="882" y2="885.6" stroke="#bbb" stroke-width="0.7"/>
<text transform="translate(205.6,895.6) scale(0.73,1)" font-size="9.8" fill="#000" stroke="#000" stroke-width="0.3" text-anchor="middle">15,000</text>
<line x1="272.7" x2="272.7" y1="882" y2="885.6" stroke="#bbb" stroke-width="0.7"/>
<text transform="translate(272.6,895.6) scale(0.73,1)" font-size="9.8" fill="#000" stroke="#000" stroke-width="0.3" text-anchor="middle">20,000</text>
<line x1="339.8" x2="339.8" y1="882" y2="885.6" stroke="#bbb" stroke-width="0.7"/>
<text transform="translate(339.7,895.6) scale(0.73,1)" font-size="9.8" fill="#000" stroke="#000" stroke-width="0.3" text-anchor="middle">25,000</text>
<polygon points="10.9,853.3 16.9,853.3 13.9,860.3" fill="#3a873a"/>
<text transform="translate(10.4,850.3) rotate(90)" font-size="8.8" fill="#000" text-anchor="end">V69V</text>
<polygon points="68.0,853.3 74.0,853.3 71.0,860.3" fill="#3a873a"/>
<text transform="translate(67.3,850.3) rotate(90)" font-size="8.8" fill="#000" text-anchor="end">P1497S</text>
<polygon points="76.6,853.3 82.6,853.3 79.6,860.3" fill="#3a873a"/>
<text transform="translate(76.1,850.3) rotate(90)" font-size="8.8" fill="#000" text-anchor="end">E1724D</text>
<polygon points="90.6,853.3 96.6,853.3 93.6,860.3" fill="#3a873a"/>
<text transform="translate(89.8,850.3) rotate(90)" font-size="8.8" fill="#000" text-anchor="end">D2094D</text>
<polygon points="267.5,853.3 273.5,853.3 270.5,860.3" fill="#3a873a"/>
<text transform="translate(266.9,850.3) rotate(90)" font-size="8.8" fill="#000" text-anchor="end">G2068E</text>
<polygon points="275.8,853.3 281.8,853.3 278.8,860.3" fill="#3a873a"/>
<text transform="translate(275.3,850.3) rotate(90)" font-size="8.8" fill="#000" text-anchor="end">V2236F</text>
<polygon points="304.1,853.3 310.1,853.3 307.1,860.3" fill="#3a873a"/>
<text transform="translate(303.8,850.3) rotate(90)" font-size="8.8" fill="#000" text-anchor="end">T274I</text>
<polygon points="312.6,853.3 318.6,853.3 315.6,860.3" fill="#3a873a"/>
<text transform="translate(311.7,850.3) rotate(90)" font-size="8.8" fill="#000" text-anchor="end">T500I</text>
<polygon points="346.9,853.3 352.9,853.3 349.9,860.3" fill="#3a873a"/>
<text transform="translate(346.7,850.3) rotate(90)" font-size="8.8" fill="#000" text-anchor="end">V50I</text>
<polygon points="391.5,853.3 397.5,853.3 394.5,860.3" fill="#3a873a"/>
<text transform="translate(388.7,850.3) rotate(90)" font-size="8.8" fill="#000" text-anchor="end">A254V</text>
<polygon points="394.5,853.3 400.5,853.3 397.5,860.3" fill="#3a873a"/>
<text transform="translate(396.9,850.3) rotate(90)" font-size="8.8" fill="#000" text-anchor="end">P326L</text>
<text x="423.8" y="11.7" font-size="16.7" font-weight="bold" fill="#000">B</text>
<rect x="463.0" y="10.5" width="221.20000000000005" height="252.7" fill="#fff"/>
<line x1="463.0" x2="684.2" y1="249.9" y2="249.9" stroke="#ebebeb" stroke-width="0.55"/>
<line x1="463.0" x2="684.2" y1="158.7" y2="158.7" stroke="#ebebeb" stroke-width="0.55"/>
<line x1="463.0" x2="684.2" y1="67.5" y2="67.5" stroke="#ebebeb" stroke-width="0.55"/>
<line x1="463.0" x2="684.2" y1="204.3" y2="204.3" stroke="#ebebeb" stroke-width="1.07"/>
<line x1="463.0" x2="684.2" y1="113.1" y2="113.1" stroke="#ebebeb" stroke-width="1.07"/>
<line x1="463.0" x2="684.2" y1="21.9" y2="21.9" stroke="#ebebeb" stroke-width="1.07"/>
<line x1="523.4" x2="523.4" y1="10.5" y2="263.2" stroke="#ebebeb" stroke-width="1.07"/>
<line x1="624.3" x2="624.3" y1="10.5" y2="263.2" stroke="#ebebeb" stroke-width="1.07"/>
<polygon points="524.70,21.80 524.60,30.00 524.40,50.00 524.30,67.00 523.85,80.00 523.55,90.00 523.48,120.00 523.52,150.00 523.65,155.00 523.90,160.00 524.15,165.10 525.00,170.10 526.20,175.00 527.70,180.10 529.00,185.00 530.40,190.20 531.50,195.00 532.80,200.20 533.90,205.00 535.10,210.20 537.40,215.00 541.70,220.30 546.20,225.00 549.20,229.30 554.90,234.00 560.40,238.10 564.40,242.00 567.00,245.10 568.20,247.70 568.80,250.00 478.00,250.00 478.60,247.70 479.80,245.10 482.40,242.00 486.40,238.10 491.90,234.00 497.60,229.30 500.60,225.00 505.10,220.30 509.40,215.00 511.70,210.20 512.90,205.00 514.00,200.20 515.30,195.00 516.40,190.20 517.80,185.00 519.10,180.10 520.60,175.00 521.80,170.10 522.65,165.10 522.90,160.00 523.15,155.00 523.28,150.00 523.32,120.00 523.25,90.00 522.95,80.00 522.50,67.00 522.40,50.00 522.20,30.00 522.10,21.80" fill="#fff" stroke="#333333" stroke-width="0.9" stroke-linejoin="round"/>
<polygon points="664.40,67.20 663.70,70.50 660.70,74.50 657.60,77.00 654.10,79.70 649.60,83.00 645.60,86.30 641.90,89.50 639.00,92.80 637.10,96.00 636.10,99.40 635.30,106.00 634.80,112.60 633.10,119.10 631.10,125.70 628.80,132.30 626.50,138.80 625.00,145.40 624.60,150.00 624.38,160.00 624.38,200.00 624.60,206.00 624.90,210.00 625.30,214.20 625.90,217.50 626.70,220.70 628.30,225.00 630.20,230.30 631.70,235.00 632.90,240.00 633.80,245.00 634.50,250.00 614.10,250.00 614.80,245.00 615.70,240.00 616.90,235.00 618.40,230.30 620.30,225.00 621.90,220.70 622.70,217.50 623.30,214.20 623.70,210.00 624.00,206.00 624.22,200.00 624.22,160.00 624.00,150.00 623.60,145.40 622.10,138.80 619.80,132.30 617.50,125.70 615.50,119.10 613.80,112.60 613.30,106.00 612.50,99.40 611.50,96.00 609.60,92.80 606.70,89.50 603.00,86.30 599.00,83.00 594.50,79.70 591.00,77.00 587.90,74.50 584.90,70.50 584.20,67.20" fill="#fff" stroke="#333333" stroke-width="0.9" stroke-linejoin="round"/>
<circle cx="514.8" cy="24.0" r="3.4" fill="#f9b14a" fill-opacity="0.7" stroke="#000" stroke-opacity="0.55" stroke-width="0.6"/>
<circle cx="506.0" cy="66.9" r="3.4" fill="#f9b14a" fill-opacity="0.7" stroke="#000" stroke-opacity="0.55" stroke-width="0.6"/>
<circle cx="506.1" cy="206.1" r="3.4" fill="#f9b14a" fill-opacity="0.7" stroke="#000" stroke-opacity="0.55" stroke-width="0.6"/>
<circle cx="507.4" cy="204.7" r="3.4" fill="#f9b14a" fill-opacity="0.7" stroke="#000" stroke-opacity="0.55" stroke-width="0.6"/>
<circle cx="522.5" cy="204.1" r="3.4" fill="#f9b14a" fill-opacity="0.7" stroke="#000" stroke-opacity="0.55" stroke-width="0.6"/>
<circle cx="528.6" cy="204.1" r="3.4" fill="#f9b14a" fill-opacity="0.7" stroke="#000" stroke-opacity="0.55" stroke-width="0.6"/>
<circle cx="529.6" cy="202.2" r="3.4" fill="#f9b14a" fill-opacity="0.7" stroke="#000" stroke-opacity="0.55" stroke-width="0.6"/>
<circle cx="530.2" cy="205.5" r="3.4" fill="#f9b14a" fill-opacity="0.7" stroke="#000" stroke-opacity="0.55" stroke-width="0.6"/>
<circle cx="535.3" cy="203.4" r="3.4" fill="#f9b14a" fill-opacity="0.7" stroke="#000" stroke-opacity="0.55" stroke-width="0.6"/>
<circle cx="504.6" cy="248.4" r="3.4" fill="#f9b14a" fill-opacity="0.7" stroke="#000" stroke-opacity="0.55" stroke-width="0.6"/>
<circle cx="503.7" cy="252.3" r="3.4" fill="#f9b14a" fill-opacity="0.7" stroke="#000" stroke-opacity="0.55" stroke-width="0.6"/>
<circle cx="509.2" cy="250.6" r="3.4" fill="#f9b14a" fill-opacity="0.7" stroke="#000" stroke-opacity="0.55" stroke-width="0.6"/>
<circle cx="509.0" cy="248.4" r="3.4" fill="#f9b14a" fill-opacity="0.7" stroke="#000" stroke-opacity="0.55" stroke-width="0.6"/>
<circle cx="513.8" cy="252.3" r="3.4" fill="#f9b14a" fill-opacity="0.7" stroke="#000" stroke-opacity="0.55" stroke-width="0.6"/>
<circle cx="518.6" cy="248.8" r="3.4" fill="#f9b14a" fill-opacity="0.7" stroke="#000" stroke-opacity="0.55" stroke-width="0.6"/>
<circle cx="519.5" cy="253.6" r="3.4" fill="#f9b14a" fill-opacity="0.7" stroke="#000" stroke-opacity="0.55" stroke-width="0.6"/>
<circle cx="526.5" cy="251.0" r="3.4" fill="#f9b14a" fill-opacity="0.7" stroke="#000" stroke-opacity="0.55" stroke-width="0.6"/>
<circle cx="520.4" cy="249.7" r="3.4" fill="#f9b14a" fill-opacity="0.7" stroke="#000" stroke-opacity="0.55" stroke-width="0.6"/>
<circle cx="527.0" cy="251.9" r="3.4" fill="#f9b14a" fill-opacity="0.7" stroke="#000" stroke-opacity="0.55" stroke-width="0.6"/>
<circle cx="531.0" cy="247.9" r="3.4" fill="#f9b14a" fill-opacity="0.7" stroke="#000" stroke-opacity="0.55" stroke-width="0.6"/>
<circle cx="534.5" cy="251.9" r="3.4" fill="#f9b14a" fill-opacity="0.7" stroke="#000" stroke-opacity="0.55" stroke-width="0.6"/>
<circle cx="537.5" cy="247.9" r="3.4" fill="#f9b14a" fill-opacity="0.7" stroke="#000" stroke-opacity="0.55" stroke-width="0.6"/>
<circle cx="540.1" cy="249.3" r="3.4" fill="#f9b14a" fill-opacity="0.7" stroke="#000" stroke-opacity="0.55" stroke-width="0.6"/>
<circle cx="543.2" cy="250.1" r="3.4" fill="#f9b14a" fill-opacity="0.7" stroke="#000" stroke-opacity="0.55" stroke-width="0.6"/>
<circle cx="536.2" cy="246.6" r="3.4" fill="#f9b14a" fill-opacity="0.7" stroke="#000" stroke-opacity="0.55" stroke-width="0.6"/>
<circle cx="516.3" cy="248.3" r="3.4" fill="#f9b14a" fill-opacity="0.7" stroke="#000" stroke-opacity="0.55" stroke-width="0.6"/>
<circle cx="528.7" cy="247.9" r="3.4" fill="#f9b14a" fill-opacity="0.7" stroke="#000" stroke-opacity="0.55" stroke-width="0.6"/>
<circle cx="524.4" cy="249.5" r="3.4" fill="#f9b14a" fill-opacity="0.7" stroke="#000" stroke-opacity="0.55" stroke-width="0.6"/>
<circle cx="506.2" cy="250.3" r="3.4" fill="#f9b14a" fill-opacity="0.7" stroke="#000" stroke-opacity="0.55" stroke-width="0.6"/>
<circle cx="505.4" cy="249.9" r="3.4" fill="#f9b14a" fill-opacity="0.7" stroke="#000" stroke-opacity="0.55" stroke-width="0.6"/>
<circle cx="506.7" cy="248.0" r="3.4" fill="#f9b14a" fill-opacity="0.7" stroke="#000" stroke-opacity="0.55" stroke-width="0.6"/>
<circle cx="520.1" cy="252.0" r="3.4" fill="#f9b14a" fill-opacity="0.7" stroke="#000" stroke-opacity="0.55" stroke-width="0.6"/>
<circle cx="508.7" cy="248.7" r="3.4" fill="#f9b14a" fill-opacity="0.7" stroke="#000" stroke-opacity="0.55" stroke-width="0.6"/>
<circle cx="527.8" cy="252.7" r="3.4" fill="#f9b14a" fill-opacity="0.7" stroke="#000" stroke-opacity="0.55" stroke-width="0.6"/>
<circle cx="525.9" cy="249.7" r="3.4" fill="#f9b14a" fill-opacity="0.7" stroke="#000" stroke-opacity="0.55" stroke-width="0.6"/>
<circle cx="541.1" cy="247.8" r="3.4" fill="#f9b14a" fill-opacity="0.7" stroke="#000" stroke-opacity="0.55" stroke-width="0.6"/>
<circle cx="536.6" cy="249.1" r="3.4" fill="#f9b14a" fill-opacity="0.7" stroke="#000" stroke-opacity="0.55" stroke-width="0.6"/>
<circle cx="509.5" cy="248.1" r="3.4" fill="#f9b14a" fill-opacity="0.7" stroke="#000" stroke-opacity="0.55" stroke-width="0.6"/>
<circle cx="515.7" cy="252.0" r="3.4" fill="#f9b14a" fill-opacity="0.7" stroke="#000" stroke-opacity="0.55" stroke-width="0.6"/>
<circle cx="510.9" cy="250.7" r="3.4" fill="#f9b14a" fill-opacity="0.7" stroke="#000" stroke-opacity="0.55" stroke-width="0.6"/>
<circle cx="528.3" cy="249.5" r="3.4" fill="#f9b14a" fill-opacity="0.7" stroke="#000" stroke-opacity="0.55" stroke-width="0.6"/>
<circle cx="524.8" cy="247.8" r="3.4" fill="#f9b14a" fill-opacity="0.7" stroke="#000" stroke-opacity="0.55" stroke-width="0.6"/>
<circle cx="506.3" cy="248.6" r="3.4" fill="#f9b14a" fill-opacity="0.7" stroke="#000" stroke-opacity="0.55" stroke-width="0.6"/>
<circle cx="529.9" cy="249.9" r="3.4" fill="#f9b14a" fill-opacity="0.7" stroke="#000" stroke-opacity="0.55" stroke-width="0.6"/>
<circle cx="515.9" cy="250.7" r="3.4" fill="#f9b14a" fill-opacity="0.7" stroke="#000" stroke-opacity="0.55" stroke-width="0.6"/>
<circle cx="521.2" cy="249.1" r="3.4" fill="#f9b14a" fill-opacity="0.7" stroke="#000" stroke-opacity="0.55" stroke-width="0.6"/>
<circle cx="534.2" cy="251.3" r="3.4" fill="#f9b14a" fill-opacity="0.7" stroke="#000" stroke-opacity="0.55" stroke-width="0.6"/>
<circle cx="513.3" cy="250.7" r="3.4" fill="#f9b14a" fill-opacity="0.7" stroke="#000" stroke-opacity="0.55" stroke-width="0.6"/>
<circle cx="524.0" cy="252.3" r="3.4" fill="#f9b14a" fill-opacity="0.7" stroke="#000" stroke-opacity="0.55" stroke-width="0.6"/>
<circle cx="531.7" cy="249.1" r="3.4" fill="#f9b14a" fill-opacity="0.7" stroke="#000" stroke-opacity="0.55" stroke-width="0.6"/>
<circle cx="541.2" cy="248.1" r="3.4" fill="#f9b14a" fill-opacity="0.7" stroke="#000" stroke-opacity="0.55" stroke-width="0.6"/>
<circle cx="519.9" cy="251.7" r="3.4" fill="#f9b14a" fill-opacity="0.7" stroke="#000" stroke-opacity="0.55" stroke-width="0.6"/>
<circle cx="509.8" cy="250.2" r="3.4" fill="#f9b14a" fill-opacity="0.7" stroke="#000" stroke-opacity="0.55" stroke-width="0.6"/>
<circle cx="617.3" cy="66.7" r="3.4" fill="#6666ff" fill-opacity="0.7" stroke="#000" stroke-opacity="0.55" stroke-width="0.6"/>
<circle cx="633.7" cy="66.7" r="3.4" fill="#6666ff" fill-opacity="0.7" stroke="#000" stroke-opacity="0.55" stroke-width="0.6"/>
<circle cx="642.9" cy="66.9" r="3.4" fill="#6666ff" fill-opacity="0.7" stroke="#000" stroke-opacity="0.55" stroke-width="0.6"/>
<circle cx="642.9" cy="69.1" r="3.4" fill="#6666ff" fill-opacity="0.7" stroke="#000" stroke-opacity="0.55" stroke-width="0.6"/>
<circle cx="608.4" cy="111.2" r="3.4" fill="#6666ff" fill-opacity="0.7" stroke="#000" stroke-opacity="0.55" stroke-width="0.6"/>
<circle cx="615.5" cy="250.0" r="3.4" fill="#6666ff" fill-opacity="0.7" stroke="#000" stroke-opacity="0.55" stroke-width="0.6"/>
<rect x="463.0" y="10.5" width="221.20000000000005" height="252.7" fill="none" stroke="#333333" stroke-width="1.07"/>
<line x1="460.3" x2="463.0" y1="204.3" y2="204.3" stroke="#333333" stroke-width="1.07"/>
<text x="457.5" y="208.9" font-size="13.7" fill="#4d4d4d" text-anchor="end">2</text>
<line x1="460.3" x2="463.0" y1="113.1" y2="113.1" stroke="#333333" stroke-width="1.07"/>
<text x="457.5" y="117.7" font-size="13.7" fill="#4d4d4d" text-anchor="end">4</text>
<line x1="460.3" x2="463.0" y1="21.9" y2="21.9" stroke="#333333" stroke-width="1.07"/>
<text x="457.5" y="26.5" font-size="13.7" fill="#4d4d4d" text-anchor="end">6</text>
<line x1="523.4" x2="523.4" y1="263.2" y2="265.9" stroke="#333333" stroke-width="1.07"/>
<text x="523.4" y="278.9" font-size="13.7" fill="#4d4d4d" text-anchor="middle">Lion</text>
<line x1="624.3" x2="624.3" y1="263.2" y2="265.9" stroke="#333333" stroke-width="1.07"/>
<text x="624.3" y="278.9" font-size="13.7" fill="#4d4d4d" text-anchor="middle">Hyena</text>
<text transform="translate(427.9,136.6) rotate(-90)" font-size="13.8" fill="#000" text-anchor="middle">Within−host variants per sample</text>
<text transform="translate(442.6,137.0) rotate(-90)" font-size="13.8" fill="#000" text-anchor="middle">(relative to tiger reference)</text>
<text x="423.6" y="316.1" font-size="16.7" font-weight="bold" fill="#000">C</text>
<rect x="453.4" y="315.7" width="230.80000000000007" height="238.50000000000006" fill="#fff"/>
<line x1="453.4" x2="684.2" y1="507.2" y2="507.2" stroke="#ebebeb" stroke-width="0.55"/>
<line x1="453.4" x2="684.2" y1="434.8" y2="434.8" stroke="#ebebeb" stroke-width="0.55"/>
<line x1="453.4" x2="684.2" y1="362.3" y2="362.3" stroke="#ebebeb" stroke-width="0.55"/>
<line x1="453.4" x2="684.2" y1="543.4" y2="543.4" stroke="#ebebeb" stroke-width="1.07"/>
<line x1="453.4" x2="684.2" y1="471.0" y2="471.0" stroke="#ebebeb" stroke-width="1.07"/>
<line x1="453.4" x2="684.2" y1="398.5" y2="398.5" stroke="#ebebeb" stroke-width="1.07"/>
<line x1="453.4" x2="684.2" y1="326.1" y2="326.1" stroke="#ebebeb" stroke-width="1.07"/>
<line x1="516.1" x2="516.1" y1="315.7" y2="554.2" stroke="#ebebeb" stroke-width="1.07"/>
<line x1="621.3" x2="621.3" y1="315.7" y2="554.2" stroke="#ebebeb" stroke-width="1.07"/>
<rect x="468.7" y="326.10" width="47.40" height="217.30" fill="#fab352"/>
<rect x="516.1" y="470.97" width="47.40" height="72.43" fill="#6666ff"/>
<rect x="573.9" y="510.81" width="47.40" height="32.59" fill="#fab352"/>
<rect x="621.3" y="525.29" width="47.50" height="18.11" fill="#6666ff"/>
<rect x="453.4" y="315.7" width="230.80000000000007" height="238.50000000000006" fill="none" stroke="#333333" stroke-width="1.07"/>
<line x1="450.7" x2="453.4" y1="543.4" y2="543.4" stroke="#333333" stroke-width="1.07"/>
<text x="447.4" y="547.5" font-size="11.6" fill="#4d4d4d" text-anchor="end">0</text>
<line x1="450.7" x2="453.4" y1="471.0" y2="471.0" stroke="#333333" stroke-width="1.07"/>
<text x="447.4" y="475.1" font-size="11.6" fill="#4d4d4d" text-anchor="end">20</text>
<line x1="450.7" x2="453.4" y1="398.5" y2="398.5" stroke="#333333" stroke-width="1.07"/>
<text x="447.4" y="402.6" font-size="11.6" fill="#4d4d4d" text-anchor="end">40</text>
<line x1="450.7" x2="453.4" y1="326.1" y2="326.1" stroke="#333333" stroke-width="1.07"/>
<text x="447.4" y="330.2" font-size="11.6" fill="#4d4d4d" text-anchor="end">60</text>
<line x1="516.1" x2="516.1" y1="554.2" y2="556.9000000000001" stroke="#333333" stroke-width="1.07"/>
<text x="516.1" y="568.1" font-size="11.6" fill="#4d4d4d" text-anchor="middle">transition</text>
<line x1="621.3" x2="621.3" y1="554.2" y2="556.9000000000001" stroke="#333333" stroke-width="1.07"/>
<text x="621.3" y="568.1" font-size="11.6" fill="#4d4d4d" text-anchor="middle">transversion</text>
<text x="569.0" y="584.3" font-size="13.8" fill="#000" text-anchor="middle">Substitution relative to tiger reference</text>
<text transform="translate(427.6,434.3) rotate(-90)" font-size="13.8" fill="#000" text-anchor="middle">Number of observations</text>
<text x="423.8" y="620.8" font-size="16.7" font-weight="bold" fill="#000">D</text>
<rect x="453.4" y="620.4" width="230.80000000000007" height="185.10000000000002" fill="#fff"/>
<line x1="453.4" x2="684.2" y1="769.7" y2="769.7" stroke="#ebebeb" stroke-width="0.55"/>
<line x1="453.4" x2="684.2" y1="715.4" y2="715.4" stroke="#ebebeb" stroke-width="0.55"/>
<line x1="453.4" x2="684.2" y1="661.1" y2="661.1" stroke="#ebebeb" stroke-width="0.55"/>
<line x1="453.4" x2="684.2" y1="796.9" y2="796.9" stroke="#ebebeb" stroke-width="1.07"/>
<line x1="453.4" x2="684.2" y1="742.6" y2="742.6" stroke="#ebebeb" stroke-width="1.07"/>
<line x1="453.4" x2="684.2" y1="688.2" y2="688.2" stroke="#ebebeb" stroke-width="1.07"/>
<line x1="453.4" x2="684.2" y1="633.9" y2="633.9" stroke="#ebebeb" stroke-width="1.07"/>
<line x1="486.3" x2="486.3" y1="620.4" y2="805.5" stroke="#ebebeb" stroke-width="1.07"/>
<line x1="541.3" x2="541.3" y1="620.4" y2="805.5" stroke="#ebebeb" stroke-width="1.07"/>
<line x1="596.3" x2="596.3" y1="620.4" y2="805.5" stroke="#ebebeb" stroke-width="1.07"/>
<line x1="651.3" x2="651.3" y1="620.4" y2="805.5" stroke="#ebebeb" stroke-width="1.07"/>
<rect x="461.5" y="791.47" width="49.60" height="5.43" fill="#fab352"/>
<rect x="516.5" y="791.47" width="49.60" height="5.43" fill="#fab352"/>
<rect x="571.6" y="628.47" width="24.70" height="168.43" fill="#fab352"/>
<rect x="596.3" y="728.98" width="24.80" height="67.92" fill="#6666ff"/>
<rect x="626.6" y="788.75" width="49.60" height="8.15" fill="#fab352"/>
<rect x="453.4" y="620.4" width="230.80000000000007" height="185.10000000000002" fill="none" stroke="#333333" stroke-width="1.07"/>
<line x1="450.7" x2="453.4" y1="796.9" y2="796.9" stroke="#333333" stroke-width="1.07"/>
<text x="447.4" y="801.0" font-size="11.6" fill="#4d4d4d" text-anchor="end">0</text>
<line x1="450.7" x2="453.4" y1="742.6" y2="742.6" stroke="#333333" stroke-width="1.07"/>
<text x="447.4" y="746.7" font-size="11.6" fill="#4d4d4d" text-anchor="end">20</text>
<line x1="450.7" x2="453.4" y1="688.2" y2="688.2" stroke="#333333" stroke-width="1.07"/>
<text x="447.4" y="692.3" font-size="11.6" fill="#4d4d4d" text-anchor="end">40</text>
<line x1="450.7" x2="453.4" y1="633.9" y2="633.9" stroke="#333333" stroke-width="1.07"/>
<text x="447.4" y="638.0" font-size="11.6" fill="#4d4d4d" text-anchor="end">60</text>
<line x1="486.3" x2="486.3" y1="805.5" y2="808.2" stroke="#333333" stroke-width="1.07"/>
<line x1="541.3" x2="541.3" y1="805.5" y2="808.2" stroke="#333333" stroke-width="1.07"/>
<line x1="596.3" x2="596.3" y1="805.5" y2="808.2" stroke="#333333" stroke-width="1.07"/>
<line x1="651.3" x2="651.3" y1="805.5" y2="808.2" stroke="#333333" stroke-width="1.07"/>
<text transform="translate(494.27,844.38) rotate(49.5)" font-size="11.5" fill="#4d4d4d" text-anchor="middle"><tspan x="0" dy="0">3'UTR</tspan><tspan x="0" dy="13.4">noncoding</tspan></text>
<text transform="translate(549.27,844.38) rotate(49.5)" font-size="11.5" fill="#4d4d4d" text-anchor="middle"><tspan x="0" dy="0">5'UTR</tspan><tspan x="0" dy="13.4">noncoding</tspan></text>
<text transform="translate(605.17,844.78) rotate(49.5)" font-size="11.5" fill="#4d4d4d" text-anchor="middle"><tspan x="0" dy="0">Nonsynonymous</tspan><tspan x="0" dy="12.0">SNV</tspan></text>
<text transform="translate(660.17,844.58) rotate(49.5)" font-size="11.5" fill="#4d4d4d" text-anchor="middle"><tspan x="0" dy="0">Synonymous</tspan><tspan x="0" dy="12.6">SNV</tspan></text>
<text transform="translate(427.6,712.3) rotate(-90)" font-size="13.8" fill="#000" text-anchor="middle">Number of observations</text>
</svg></body></html>
